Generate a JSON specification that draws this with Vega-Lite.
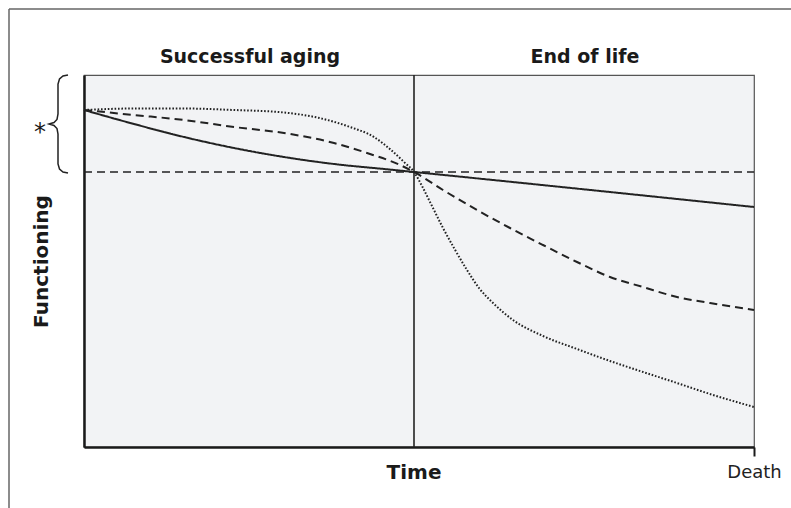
{
  "$schema": "https://vega.github.io/schema/vega-lite/v6.json",
  "autosize": {"type": "none"},
  "width": 670,
  "height": 372,
  "padding": {"left": 84, "top": 75, "right": 37, "bottom": 61},
  "background": "white",
  "config": {
    "view": {"stroke": "#555555", "strokeWidth": 1.2, "fill": "#f2f3f5"},
    "font": "DejaVu Sans"
  },
  "datasets": {
    "curves": [
      {"series": "solid", "t": 0, "f": 337},
      {"series": "solid", "t": 50, "f": 323},
      {"series": "solid", "t": 100, "f": 310},
      {"series": "solid", "t": 150, "f": 299},
      {"series": "solid", "t": 200, "f": 290},
      {"series": "solid", "t": 250, "f": 283},
      {"series": "solid", "t": 300, "f": 278},
      {"series": "solid", "t": 330, "f": 275},
      {"series": "solid", "t": 670, "f": 240},
      {"series": "dashed", "t": 0, "f": 337},
      {"series": "dashed", "t": 50, "f": 332},
      {"series": "dashed", "t": 100, "f": 327},
      {"series": "dashed", "t": 150, "f": 320},
      {"series": "dashed", "t": 200, "f": 314},
      {"series": "dashed", "t": 250, "f": 304},
      {"series": "dashed", "t": 283, "f": 294},
      {"series": "dashed", "t": 316, "f": 282},
      {"series": "dashed", "t": 330, "f": 275},
      {"series": "dashed", "t": 359, "f": 257},
      {"series": "dashed", "t": 393, "f": 237},
      {"series": "dashed", "t": 426, "f": 219},
      {"series": "dashed", "t": 459, "f": 202},
      {"series": "dashed", "t": 493, "f": 185},
      {"series": "dashed", "t": 526, "f": 170},
      {"series": "dashed", "t": 559, "f": 160},
      {"series": "dashed", "t": 593, "f": 150},
      {"series": "dashed", "t": 626, "f": 144},
      {"series": "dashed", "t": 670, "f": 137},
      {"series": "dotted", "t": 0, "f": 337},
      {"series": "dotted", "t": 50, "f": 338.5},
      {"series": "dotted", "t": 100, "f": 338.5},
      {"series": "dotted", "t": 150, "f": 337},
      {"series": "dotted", "t": 200, "f": 334.5},
      {"series": "dotted", "t": 233, "f": 329.5},
      {"series": "dotted", "t": 266, "f": 320},
      {"series": "dotted", "t": 290, "f": 310},
      {"series": "dotted", "t": 307, "f": 297},
      {"series": "dotted", "t": 320, "f": 285},
      {"series": "dotted", "t": 330, "f": 275},
      {"series": "dotted", "t": 338, "f": 261},
      {"series": "dotted", "t": 347, "f": 243},
      {"series": "dotted", "t": 359, "f": 219},
      {"series": "dotted", "t": 370, "f": 199},
      {"series": "dotted", "t": 383, "f": 177},
      {"series": "dotted", "t": 395, "f": 159},
      {"series": "dotted", "t": 409, "f": 144},
      {"series": "dotted", "t": 429, "f": 127},
      {"series": "dotted", "t": 459, "f": 111},
      {"series": "dotted", "t": 493, "f": 98},
      {"series": "dotted", "t": 526, "f": 86},
      {"series": "dotted", "t": 559, "f": 75},
      {"series": "dotted", "t": 593, "f": 64},
      {"series": "dotted", "t": 626, "f": 53},
      {"series": "dotted", "t": 670, "f": 40}
    ],
    "brace": [
      {"i": 0, "t": -16, "f": 372},
      {"i": 1, "t": -21, "f": 371},
      {"i": 2, "t": -24.5, "f": 368},
      {"i": 3, "t": -26, "f": 363},
      {"i": 4, "t": -26, "f": 333},
      {"i": 5, "t": -27, "f": 327.5},
      {"i": 6, "t": -30, "f": 324.5},
      {"i": 7, "t": -35, "f": 323},
      {"i": 8, "t": -30, "f": 321.5},
      {"i": 9, "t": -27, "f": 318.5},
      {"i": 10, "t": -26, "f": 313},
      {"i": 11, "t": -26, "f": 283},
      {"i": 12, "t": -24.5, "f": 278},
      {"i": 13, "t": -21, "f": 275},
      {"i": 14, "t": -16, "f": 274}
    ],
    "frame": [
      {"t": -75, "t2": 707, "f": 438, "f2": 438},
      {"t": -75, "t2": -75, "f": 438, "f2": -61}
    ],
    "headers": [
      {"label": "Successful aging", "t": 166, "f": 390},
      {"label": "End of life", "t": 501, "f": 390}
    ],
    "timeLabel": [{"label": "Time", "t": 330, "f": -26}],
    "star": [{"label": "*", "t": -44, "f": 314}]
  },
  "layer": [
    {
      "data": {"name": "frame"},
      "mark": {"type": "rule", "color": "#666666", "strokeWidth": 1.5},
      "encoding": {
        "x": {"field": "t", "type": "quantitative", "scale": {"domain": [0, 670], "nice": false, "zero": false},
          "axis": {"values": [670], "labelExpr": "'Death'", "labelFlush": false, "domainColor": "#1a1a1a", "domainWidth": 2.5, "tickColor": "#1a1a1a", "tickWidth": 2, "tickSize": 9, "labelFontSize": 18, "labelColor": "#222222", "labelPadding": 7, "labelFont": "DejaVu Sans", "grid": false, "title": null}},
        "x2": {"field": "t2"},
        "y": {"field": "f", "type": "quantitative", "scale": {"domain": [0, 372], "nice": false, "zero": false},
          "axis": {"domainColor": "#1a1a1a", "domainWidth": 2.5, "ticks": false, "labels": false, "grid": false, "title": "Functioning", "titleFontSize": 20, "titleFontWeight": "bold", "titleColor": "#1a1a1a", "titlePadding": 33, "titleFont": "DejaVu Sans"}},
        "y2": {"field": "f2"}
      }
    },
    {
      "data": {"values": [{"t": 0, "t2": 670, "f": 275}]},
      "mark": {"type": "rule", "color": "#222222", "strokeWidth": 1.5, "strokeDash": [8, 5]},
      "encoding": {
        "x": {"field": "t", "type": "quantitative"},
        "x2": {"field": "t2"},
        "y": {"field": "f", "type": "quantitative"}
      }
    },
    {
      "data": {"values": [{"t": 330, "f": 0, "f2": 372}]},
      "mark": {"type": "rule", "color": "#222222", "strokeWidth": 1.6},
      "encoding": {
        "x": {"field": "t", "type": "quantitative"},
        "y": {"field": "f", "type": "quantitative"},
        "y2": {"field": "f2"}
      }
    },
    {
      "data": {"name": "curves"},
      "mark": {"type": "line", "color": "#222222", "interpolate": "monotone"},
      "encoding": {
        "x": {"field": "t", "type": "quantitative"},
        "y": {"field": "f", "type": "quantitative"},
        "detail": {"field": "series"},
        "strokeDash": {"field": "series", "type": "nominal", "scale": {"domain": ["solid", "dashed", "dotted"], "range": [[1, 0], [8, 5], [1.6, 1.8]]}, "legend": null},
        "strokeWidth": {"field": "series", "type": "nominal", "scale": {"domain": ["solid", "dashed", "dotted"], "range": [2, 2, 1.6]}, "legend": null}
      }
    },
    {
      "data": {"name": "brace"},
      "mark": {"type": "line", "color": "#222222", "strokeWidth": 1.5, "interpolate": "linear"},
      "encoding": {
        "x": {"field": "t", "type": "quantitative"},
        "y": {"field": "f", "type": "quantitative"},
        "order": {"field": "i", "type": "quantitative"}
      }
    },
    {
      "data": {"name": "headers"},
      "mark": {"type": "text", "fontSize": 19, "fontWeight": "bold", "font": "DejaVu Sans", "color": "#1a1a1a", "baseline": "middle", "align": "center"},
      "encoding": {
        "x": {"field": "t", "type": "quantitative"},
        "y": {"field": "f", "type": "quantitative"},
        "text": {"field": "label"}
      }
    },
    {
      "data": {"name": "timeLabel"},
      "mark": {"type": "text", "fontSize": 20, "fontWeight": "bold", "font": "DejaVu Sans", "color": "#1a1a1a", "baseline": "middle", "align": "center"},
      "encoding": {
        "x": {"field": "t", "type": "quantitative"},
        "y": {"field": "f", "type": "quantitative"},
        "text": {"field": "label"}
      }
    },
    {
      "data": {"name": "star"},
      "mark": {"type": "text", "fontSize": 24, "font": "DejaVu Sans", "color": "#1a1a1a", "baseline": "middle", "align": "center"},
      "encoding": {
        "x": {"field": "t", "type": "quantitative"},
        "y": {"field": "f", "type": "quantitative"},
        "text": {"field": "label"}
      }
    }
  ]
}
